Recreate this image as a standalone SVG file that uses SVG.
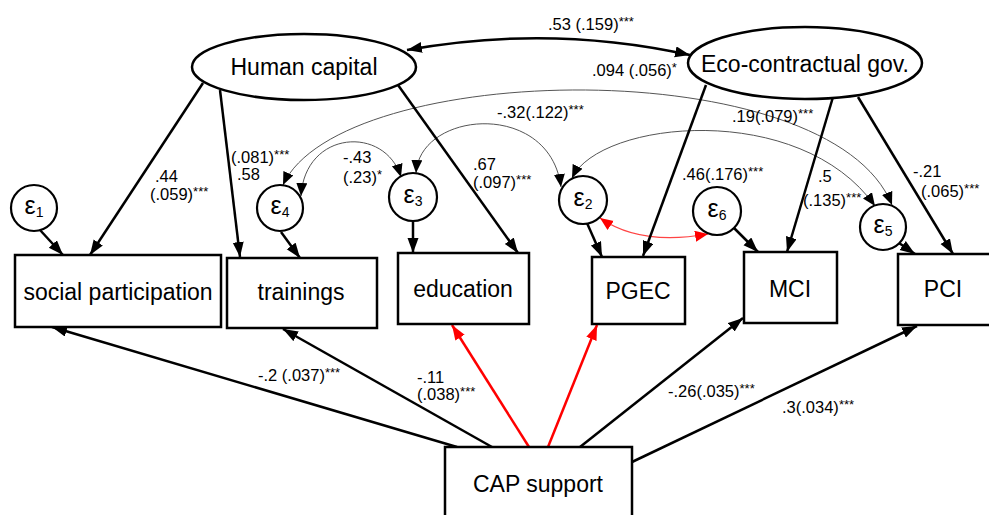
<svg xmlns="http://www.w3.org/2000/svg" width="989" height="515" viewBox="0 0 989 515">
<defs>
<style>
text{font-family:"Liberation Sans",Arial,sans-serif;fill:#000}
.node{font-size:23px;text-anchor:middle}
.lbl{font-size:16.5px}
.st{font-size:13px}
.eps{font-size:25px;text-anchor:middle}
.sub{font-size:14px}
.box{fill:#fff;stroke:#000;stroke-width:2.5}
.lat{fill:#fff;stroke:#000;stroke-width:2.5}
.err{fill:#fff;stroke:#000;stroke-width:2.2}
.p{fill:none;stroke:#000;stroke-width:2.5;marker-end:url(#ah)}
.pr{fill:none;stroke:#f00;stroke-width:2.5;marker-end:url(#ahr)}
.cov{fill:none;stroke:#555;stroke-width:1;marker-start:url(#ahs);marker-end:url(#ahs)}
.covr{fill:none;stroke:#f44;stroke-width:1.2;marker-start:url(#ahrs);marker-end:url(#ahrs)}
</style>
<marker id="ah" markerUnits="userSpaceOnUse" markerWidth="16" markerHeight="12" refX="15" refY="5.5" orient="auto"><path d="M0,0 L15,5.5 L0,11 z" fill="#000"/></marker>
<marker id="ahr" markerUnits="userSpaceOnUse" markerWidth="16" markerHeight="12" refX="15" refY="5.5" orient="auto"><path d="M0,0 L15,5.5 L0,11 z" fill="#f00"/></marker>
<marker id="ahs" markerUnits="userSpaceOnUse" markerWidth="14" markerHeight="12" refX="13" refY="5.5" orient="auto-start-reverse"><path d="M0,0 L13,5.5 L0,11 z" fill="#000"/></marker>
<marker id="ahrs" markerUnits="userSpaceOnUse" markerWidth="14" markerHeight="12" refX="13" refY="5.5" orient="auto-start-reverse"><path d="M0,0 L13,5.5 L0,11 z" fill="#f00"/></marker>
<marker id="ahb" markerUnits="userSpaceOnUse" markerWidth="16" markerHeight="12" refX="15" refY="5.5" orient="auto-start-reverse"><path d="M0,0 L15,5.5 L0,11 z" fill="#000"/></marker>
</defs>
<rect width="989" height="515" fill="#fff"/>

<g id="connectors">
<path d="M690,55 Q550,24 407,50" fill="none" stroke="#000" stroke-width="2.5" marker-start="url(#ahb)" marker-end="url(#ahb)"/>
<path class="cov" d="M283,185 C340,60 830,50 892,205"/>
<path class="cov" d="M572,178 C600,120 800,100 875,206"/>
<path class="cov" d="M416,173 C420,110 550,100 561,187"/>
<path class="cov" d="M301,196 C305,130 385,125 401,177"/>
<path class="covr" d="M600,218 Q640,246 708,234"/>
<path class="p" d="M203,83 L90,255"/>
<path class="p" d="M220,90 L240,257"/>
<path class="p" d="M398,85 L518,253"/>
<path class="p" d="M706,85 L643,256"/>
<path class="p" d="M833,97 L787,252"/>
<path class="p" d="M858,97 L953,254"/>
<path class="p" d="M40,230 L63,255"/>
<path class="p" d="M281,232 L300,258"/>
<path class="p" d="M413,221 L413,253"/>
<path class="p" d="M587,223 L602,257"/>
<path class="p" d="M734,228 L758,252"/>
<path class="p" d="M899,243 L915,254"/>
<path class="p" d="M457,447 L52,327"/>
<path class="p" d="M492,447 L283,329"/>
<path class="pr" d="M529,447 L452,325"/>
<path class="pr" d="M548,447 L597,325"/>
<path class="p" d="M580,447 L743,318"/>
<path class="p" d="M632,462 L917,326"/>
</g>

<g id="labels">
<text class="lbl" x="548" y="30">.53 (.159)<tspan class="st" dy="-4">***</tspan></text>
<text class="lbl" x="592" y="76">.094 (.056)<tspan class="st" dy="-4">*</tspan></text>
<text class="lbl" x="497" y="118">-.32(.122)<tspan class="st" dy="-4">***</tspan></text>
<text class="lbl" x="732" y="122">.19(.079)<tspan class="st" dy="-4">***</tspan></text>
<text class="lbl" x="155" y="182">.44</text>
<text class="lbl" x="150" y="200">(.059)<tspan class="st" dy="-4">***</tspan></text>
<text class="lbl" x="231" y="163">(.081)<tspan class="st" dy="-4">***</tspan></text>
<text class="lbl" x="237" y="180">.58</text>
<text class="lbl" x="343" y="163">-.43</text>
<text class="lbl" x="343" y="183">(.23)<tspan class="st" dy="-4">*</tspan></text>
<text class="lbl" x="473" y="170">.67</text>
<text class="lbl" x="473" y="188">(.097)<tspan class="st" dy="-4">***</tspan></text>
<text class="lbl" x="682" y="180">.46(.176)<tspan class="st" dy="-4">***</tspan></text>
<text class="lbl" x="818" y="182">.5</text>
<text class="lbl" x="803" y="206">(.135)<tspan class="st" dy="-4">***</tspan></text>
<text class="lbl" x="913" y="177">-.21</text>
<text class="lbl" x="921" y="197">(.065)<tspan class="st" dy="-4">***</tspan></text>
<text class="lbl" x="258" y="381">-.2 (.037)<tspan class="st" dy="-4">***</tspan></text>
<text class="lbl" x="417" y="383">-.11</text>
<text class="lbl" x="417" y="400">(.038)<tspan class="st" dy="-4">***</tspan></text>
<text class="lbl" x="668" y="397">-.26(.035)<tspan class="st" dy="-4">***</tspan></text>
<text class="lbl" x="782" y="413">.3(.034)<tspan class="st" dy="-4">***</tspan></text>
</g>

<g id="human-capital"><ellipse class="lat" cx="304" cy="67" rx="112" ry="33"/><text class="node" x="304" y="75">Human capital</text></g>
<g id="eco-gov"><ellipse class="lat" cx="805" cy="63" rx="117" ry="36"/><text class="node" x="805" y="72">Eco-contractual gov.</text></g>

<g id="e1"><circle class="err" cx="34" cy="208" r="23"/><text class="eps" x="34" y="214">ε<tspan class="sub" dy="3">1</tspan></text></g>
<g id="e4"><circle class="err" cx="280" cy="208" r="23"/><text class="eps" x="280" y="214">ε<tspan class="sub" dy="3">4</tspan></text></g>
<g id="e3"><circle class="err" cx="413" cy="197" r="24"/><text class="eps" x="413" y="203">ε<tspan class="sub" dy="3">3</tspan></text></g>
<g id="e2"><circle class="err" cx="583" cy="200" r="24"/><text class="eps" x="583" y="206">ε<tspan class="sub" dy="3">2</tspan></text></g>
<g id="e6"><circle class="err" cx="717" cy="211" r="24"/><text class="eps" x="717" y="217">ε<tspan class="sub" dy="3">6</tspan></text></g>
<g id="e5"><circle class="err" cx="883" cy="227" r="23"/><text class="eps" x="883" y="233">ε<tspan class="sub" dy="3">5</tspan></text></g>

<g id="social-participation"><rect class="box" x="15" y="255" width="206" height="72"/><text class="node" x="118" y="300">social participation</text></g>
<g id="trainings"><rect class="box" x="227" y="258" width="150" height="70"/><text class="node" x="301" y="300">trainings</text></g>
<g id="education"><rect class="box" x="398" y="253" width="131" height="71"/><text class="node" x="463" y="297">education</text></g>
<g id="pgec"><rect class="box" x="592" y="257" width="93" height="67"/><text class="node" x="638" y="299">PGEC</text></g>
<g id="mci"><rect class="box" x="744" y="252" width="93" height="71"/><text class="node" x="790" y="297">MCI</text></g>
<g id="pci"><rect class="box" x="898" y="254" width="100" height="71"/><text class="node" x="943" y="297">PCI</text></g>
<g id="cap-support"><rect class="box" x="445" y="447" width="187" height="80"/><text class="node" x="538" y="492">CAP support</text></g>
</svg>
